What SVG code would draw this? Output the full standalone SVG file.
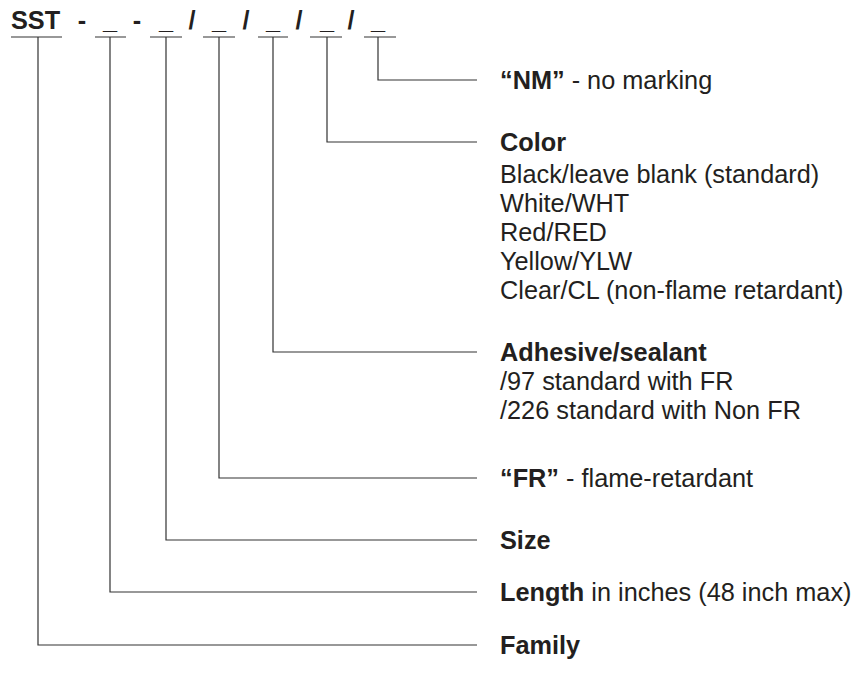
<svg xmlns="http://www.w3.org/2000/svg" width="858" height="679" viewBox="0 0 858 679">
<style>
text{font-family:"Liberation Sans",Arial,Helvetica,sans-serif;font-size:25.3px;fill:#231f20}
.b{font-weight:bold}
.ln{fill:none;stroke:#333;stroke-width:1.2}
</style>
<rect width="858" height="679" fill="#fff"/>
<g id="code">
<text class="b" x="11" y="29">SST</text>
<text class="b" x="82" y="29" text-anchor="middle">-</text>
<text class="b" x="110" y="29" text-anchor="middle">_</text>
<text class="b" x="137" y="29" text-anchor="middle">-</text>
<text class="b" x="166" y="29" text-anchor="middle">_</text>
<text class="b" x="192" y="29" text-anchor="middle">/</text>
<text class="b" x="219" y="29" text-anchor="middle">_</text>
<text class="b" x="246" y="29" text-anchor="middle">/</text>
<text class="b" x="273" y="29" text-anchor="middle">_</text>
<text class="b" x="299" y="29" text-anchor="middle">/</text>
<text class="b" x="327" y="29" text-anchor="middle">_</text>
<text class="b" x="351" y="29" text-anchor="middle">/</text>
<text class="b" x="378" y="29" text-anchor="middle">_</text>
</g>
<g id="connectors" class="ln">
<path d="M11 37H62M95 37H126M150 37H182M203 37H235M258 37H288M310 37H342M364 37H396"/>
<path d="M378 37V80H477"/>
<path d="M327 37V142H477"/>
<path d="M273 37V352H477"/>
<path d="M219 37V478H477"/>
<path d="M166 37V540H477"/>
<path d="M110 37V592H477"/>
<path d="M38 37V645H477"/>
</g>
<g id="nm"><text x="500" y="89"><tspan class="b">“NM”</tspan> - no marking</text></g>
<g id="color">
<text class="b" x="500" y="151">Color</text>
<text x="500" y="183">Black/leave blank (standard)</text>
<text x="500" y="212">White/WHT</text>
<text x="500" y="241">Red/RED</text>
<text x="500" y="270">Yellow/YLW</text>
<text x="500" y="299">Clear/CL (non-flame retardant)</text>
</g>
<g id="adhesive">
<text class="b" x="500" y="361">Adhesive/sealant</text>
<text x="500" y="390">/97 standard with FR</text>
<text x="500" y="419">/226 standard with Non FR</text>
</g>
<g id="fr"><text x="500" y="487"><tspan class="b">“FR”</tspan> - flame-retardant</text></g>
<g id="size"><text class="b" x="500" y="549">Size</text></g>
<g id="length"><text x="500" y="601"><tspan class="b">Length</tspan> in inches (48 inch max)</text></g>
<g id="family"><text class="b" x="500" y="654">Family</text></g>
</svg>
